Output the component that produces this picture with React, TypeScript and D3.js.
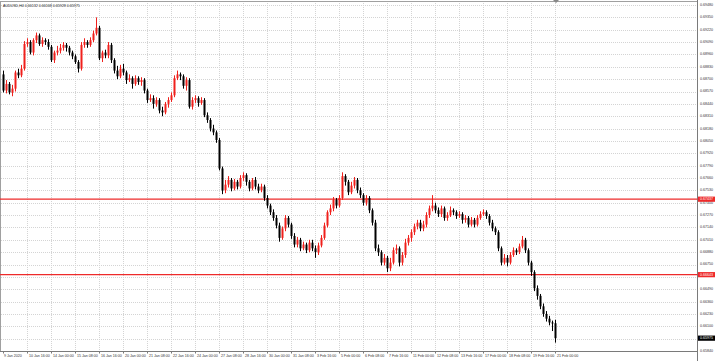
import React from "react";
import * as d3 from "d3";

const symbolTitle = "AUDUSD,H4  0.66132 0.66168 0.65928 0.65975";

const priceTicks = [
  0.6948, 0.6935, 0.6922, 0.6909, 0.6896, 0.6883, 0.687, 0.6857, 0.6844, 0.6831,
  0.6818, 0.6805, 0.6792, 0.6779, 0.6766, 0.6753, 0.674, 0.6727, 0.6714, 0.6701,
  0.6688, 0.6675, 0.6662, 0.6649, 0.6636, 0.6623, 0.661, 0.6597, 0.6584,
];

const timeLabels = [
  "9 Jan 2020", "10 Jan 16:00", "14 Jan 00:00", "15 Jan 08:00", "16 Jan 16:00", "20 Jan 00:00",
  "21 Jan 08:00", "22 Jan 16:00", "24 Jan 00:00", "27 Jan 08:00", "28 Jan 16:00", "30 Jan 00:00",
  "31 Jan 08:00", "3 Feb 16:00", "5 Feb 00:00", "6 Feb 08:00", "7 Feb 16:00", "11 Feb 00:00",
  "12 Feb 08:00", "13 Feb 16:00", "17 Feb 00:00", "18 Feb 08:00", "19 Feb 16:00", "21 Feb 00:00",
];
const timeLabelBars = [
  0, 8, 16, 24, 32, 40, 48, 56, 64, 72, 80, 88, 96, 104, 112, 120, 128, 136, 144, 152, 160, 168, 176, 184,
];

const opens = [
  0.6875, 0.6858, 0.6865, 0.6856, 0.686, 0.6877, 0.6874, 0.6881, 0.6907, 0.6909,
  0.6898, 0.6911, 0.6916, 0.6907, 0.6911, 0.6909, 0.6904, 0.689, 0.6898, 0.69,
  0.6903, 0.6906, 0.6903, 0.6898, 0.6894, 0.6888, 0.6881, 0.6906, 0.6909, 0.6906,
  0.6911, 0.6918, 0.6924, 0.6892, 0.6898, 0.6895, 0.6906, 0.689, 0.6879, 0.6873,
  0.6881, 0.6877, 0.6869, 0.6871, 0.6865, 0.6871, 0.6867, 0.6869, 0.6858, 0.6848,
  0.685, 0.6844, 0.6848, 0.6837, 0.6835, 0.6844, 0.6848, 0.6853, 0.6871, 0.6875,
  0.6873, 0.6863, 0.6869, 0.6841, 0.6848, 0.685, 0.6845, 0.6848, 0.6832, 0.6827,
  0.6818, 0.6814, 0.6806, 0.6776, 0.6753, 0.6759, 0.6764, 0.6755, 0.6762, 0.6757,
  0.6766, 0.6769, 0.6762, 0.6755, 0.6764, 0.6757, 0.6753, 0.6757, 0.6745, 0.6737,
  0.673, 0.6724, 0.6716, 0.6703, 0.6713, 0.6724, 0.6717, 0.6705, 0.6696, 0.6701,
  0.6692, 0.6696, 0.669, 0.6698, 0.6692, 0.6688, 0.6695, 0.6703, 0.6716, 0.673,
  0.6734, 0.6743, 0.6737, 0.6745, 0.6768, 0.6762, 0.6751, 0.6758, 0.6764, 0.6753,
  0.6748, 0.674, 0.6745, 0.6732, 0.6719, 0.6692, 0.6688, 0.6677, 0.6682, 0.6671,
  0.6677, 0.669, 0.6692, 0.6677, 0.6685, 0.6698, 0.6703, 0.6709, 0.6715, 0.6719,
  0.6713, 0.6717, 0.6727, 0.6734, 0.6737, 0.6732, 0.6728, 0.6734, 0.6724, 0.6727,
  0.6732, 0.673, 0.6726, 0.6728, 0.6722, 0.6724, 0.6717, 0.6722, 0.6717, 0.6724,
  0.6728, 0.673, 0.6726, 0.6719, 0.6713, 0.6709, 0.6692, 0.6677, 0.6682, 0.6677,
  0.6685, 0.669, 0.6688, 0.6694, 0.6701, 0.669, 0.6677, 0.6667, 0.665, 0.6642,
  0.6631, 0.6623, 0.6618, 0.6614, 0.66132,
];

const highs = [
  0.6879, 0.6869, 0.6867, 0.6864, 0.6879, 0.6881, 0.6885, 0.691, 0.6913, 0.6911,
  0.6913, 0.6919, 0.6918, 0.6914, 0.6913, 0.6912, 0.6906, 0.69, 0.6905, 0.6907,
  0.6909, 0.6908, 0.6905, 0.69, 0.6896, 0.689, 0.6909, 0.6913, 0.6911, 0.6914,
  0.6921, 0.6935, 0.6926, 0.69, 0.6901, 0.6909, 0.6908, 0.6892, 0.6884, 0.6885,
  0.6886, 0.6879, 0.6875, 0.6873, 0.6874, 0.6873, 0.6872, 0.6871, 0.686, 0.6854,
  0.6853, 0.6851, 0.685, 0.6841, 0.6846, 0.6851, 0.6856, 0.6874, 0.6879, 0.6877,
  0.6875, 0.6872, 0.6871, 0.6851, 0.6853, 0.6852, 0.6851, 0.685, 0.6835, 0.6829,
  0.6822, 0.6816, 0.6808, 0.6778, 0.6764, 0.6768, 0.6766, 0.6765, 0.6764, 0.6769,
  0.6772, 0.6771, 0.6764, 0.6766, 0.6767, 0.676, 0.676, 0.6759, 0.6748, 0.6739,
  0.6733, 0.6727, 0.6719, 0.6715, 0.6727, 0.6726, 0.6719, 0.6708, 0.6704, 0.6703,
  0.6699, 0.6698, 0.6701, 0.6701, 0.6695, 0.6698, 0.6706, 0.6719, 0.6732, 0.6738,
  0.6746, 0.6745, 0.6748, 0.6772, 0.677, 0.6764, 0.6762, 0.6767, 0.6766, 0.6756,
  0.675, 0.6748, 0.6747, 0.6734, 0.6722, 0.6696, 0.669, 0.6686, 0.6684, 0.6682,
  0.6693, 0.6696, 0.6694, 0.6688, 0.6702, 0.6706, 0.6712, 0.6718, 0.6722, 0.6722,
  0.6721, 0.673, 0.6737, 0.6748, 0.674, 0.6735, 0.6737, 0.6736, 0.673, 0.6736,
  0.6734, 0.6732, 0.6731, 0.673, 0.6727, 0.6726, 0.6725, 0.6724, 0.6727, 0.6731,
  0.6733, 0.6732, 0.6728, 0.6722, 0.6715, 0.6711, 0.6694, 0.6686, 0.6685, 0.6688,
  0.6693, 0.6692, 0.6697, 0.6705, 0.6703, 0.6692, 0.6679, 0.6669, 0.6653, 0.6644,
  0.6634, 0.6626, 0.6621, 0.6616, 0.66168,
];

const lows = [
  0.6856, 0.6855, 0.6854, 0.6852, 0.6857, 0.6871, 0.6872, 0.6879, 0.6904, 0.6896,
  0.6895, 0.6908, 0.6905, 0.6904, 0.6906, 0.6901, 0.6888, 0.6887, 0.6895, 0.6897,
  0.69, 0.6899, 0.6895, 0.6891, 0.6886, 0.6877, 0.6879, 0.6903, 0.6903, 0.6904,
  0.6909, 0.6916, 0.689, 0.6888, 0.6892, 0.6892, 0.6887, 0.6876, 0.687, 0.6871,
  0.6874, 0.6865, 0.6867, 0.686, 0.6863, 0.6864, 0.6863, 0.6855, 0.6845, 0.6846,
  0.6839, 0.6841, 0.6834, 0.6831, 0.6833, 0.684, 0.6846, 0.6851, 0.6869, 0.6869,
  0.686, 0.6858, 0.6839, 0.6838, 0.6845, 0.6841, 0.6843, 0.683, 0.6824, 0.6815,
  0.6811, 0.6803, 0.6774, 0.6749, 0.675, 0.6756, 0.6752, 0.6753, 0.6754, 0.6755,
  0.6763, 0.6758, 0.6752, 0.6753, 0.6754, 0.675, 0.6751, 0.6742, 0.6734, 0.6727,
  0.6721, 0.6713, 0.6699, 0.6701, 0.671, 0.6714, 0.6702, 0.6693, 0.6693, 0.6689,
  0.669, 0.6687, 0.6688, 0.6689, 0.6682, 0.6685, 0.6693, 0.6701, 0.6714, 0.6727,
  0.6731, 0.6734, 0.6735, 0.6743, 0.6758, 0.6748, 0.6749, 0.6755, 0.675, 0.6745,
  0.6737, 0.6737, 0.6729, 0.6716, 0.6689, 0.6684, 0.6674, 0.6674, 0.6667, 0.6668,
  0.6675, 0.6686, 0.6673, 0.6674, 0.6682, 0.6695, 0.6699, 0.6706, 0.6712, 0.671,
  0.671, 0.6714, 0.6724, 0.6731, 0.6729, 0.6725, 0.6725, 0.6721, 0.6721, 0.6725,
  0.6727, 0.6723, 0.6724, 0.6718, 0.6719, 0.6714, 0.6715, 0.6714, 0.6715, 0.6722,
  0.6726, 0.6723, 0.6716, 0.671, 0.6706, 0.6689, 0.6674, 0.6675, 0.6673, 0.6675,
  0.6683, 0.6685, 0.6686, 0.6692, 0.6687, 0.6674, 0.6663, 0.6647, 0.6638, 0.6628,
  0.662, 0.6615, 0.6611, 0.6605, 0.65928,
];

const closes = [
  0.6858, 0.6865, 0.6856, 0.686, 0.6877, 0.6874, 0.6881, 0.6907, 0.6909, 0.6898,
  0.6911, 0.6916, 0.6907, 0.6911, 0.6909, 0.6904, 0.689, 0.6898, 0.69, 0.6903,
  0.6906, 0.6903, 0.6898, 0.6894, 0.6888, 0.6881, 0.6906, 0.6909, 0.6906, 0.6911,
  0.6918, 0.6924, 0.6892, 0.6898, 0.6895, 0.6906, 0.689, 0.6879, 0.6873, 0.6881,
  0.6877, 0.6869, 0.6871, 0.6865, 0.6871, 0.6867, 0.6869, 0.6858, 0.6848, 0.685,
  0.6844, 0.6848, 0.6837, 0.6835, 0.6844, 0.6848, 0.6853, 0.6871, 0.6875, 0.6873,
  0.6863, 0.6869, 0.6841, 0.6848, 0.685, 0.6845, 0.6848, 0.6832, 0.6827, 0.6818,
  0.6814, 0.6806, 0.6776, 0.6753, 0.6759, 0.6764, 0.6755, 0.6762, 0.6757, 0.6766,
  0.6769, 0.6762, 0.6755, 0.6764, 0.6757, 0.6753, 0.6757, 0.6745, 0.6737, 0.673,
  0.6724, 0.6716, 0.6703, 0.6713, 0.6724, 0.6717, 0.6705, 0.6696, 0.6701, 0.6692,
  0.6696, 0.669, 0.6698, 0.6692, 0.6688, 0.6695, 0.6703, 0.6716, 0.673, 0.6734,
  0.6743, 0.6737, 0.6745, 0.6768, 0.6762, 0.6751, 0.6758, 0.6764, 0.6753, 0.6748,
  0.674, 0.6745, 0.6732, 0.6719, 0.6692, 0.6688, 0.6677, 0.6682, 0.6671, 0.6677,
  0.669, 0.6692, 0.6677, 0.6685, 0.6698, 0.6703, 0.6709, 0.6715, 0.6719, 0.6713,
  0.6717, 0.6727, 0.6734, 0.6737, 0.6732, 0.6728, 0.6734, 0.6724, 0.6727, 0.6732,
  0.673, 0.6726, 0.6728, 0.6722, 0.6724, 0.6717, 0.6722, 0.6717, 0.6724, 0.6728,
  0.673, 0.6726, 0.6719, 0.6713, 0.6709, 0.6692, 0.6677, 0.6682, 0.6677, 0.6685,
  0.669, 0.6688, 0.6694, 0.6701, 0.669, 0.6677, 0.6667, 0.665, 0.6642, 0.6631,
  0.6623, 0.6618, 0.6614, 0.66132, 0.65975,
];

const levelLines = [0.67437, 0.66643];
const currentPrice = 0.65975;

const FONT = "'Liberation Sans', Arial, sans-serif";
const BULL = "#f0201c";
const BEAR = "#000000";
const FS = 3.6;

export default function App() {
  const W = 716;
  const H = 361;
  const plotR = 697.5;
  const plotB = 351.5;

  const y = d3.scaleLinear().domain([0.6584, 0.6948]).range([351, 5]);
  const x = d3.scaleLinear().domain([0, 184]).range([3, 555]);

  const candles = closes.map((c, i) => ({ i, o: opens[i], h: highs[i], l: lows[i], c }));
  const fmt = d3.format(".5f");

  const boxes = [...levelLines, currentPrice].map((p) => y(p));
  const hiddenTick = (t: number) => boxes.some((b) => Math.abs(y(t) - b) < 3);

  return (
    <div style={{ position: "fixed", left: 0, top: 0 }}>
      <svg width={W} height={H} style={{ display: "block", background: "#fff" }} fontFamily={FONT}>
        <rect x={0} y={0} width={W} height={H} fill="#fff" />
        <g stroke="#d4d4d4" strokeWidth={1} strokeDasharray="1 1">
          {priceTicks.map((t, k) => (
            <line key={"h" + k} x1={1} x2={plotR} y1={Math.round(y(t)) + 0.5} y2={Math.round(y(t)) + 0.5} />
          ))}
          {timeLabelBars.slice(1).map((b, k) => (
            <line key={"v" + k} x1={Math.round(x(b)) + 0.5} x2={Math.round(x(b)) + 0.5} y1={1} y2={plotB} />
          ))}
        </g>
        <rect x={0.5} y={1.5} width={plotR - 0.5} height={plotB - 1.5} fill="none" stroke="#a0a0a0" strokeWidth={1} />
        <line x1={plotR} x2={plotR} y1={0} y2={H} stroke="#7a7a7a" />
        <line x1={0} x2={plotR} y1={plotB} y2={plotB} stroke="#7a7a7a" />

        {levelLines.map((p, k) => (
          <line key={"lvl" + k} x1={0} x2={plotR} y1={y(p)} y2={y(p)} stroke="#ee2a2a" strokeWidth={1.2} />
        ))}

        {candles.map((d) => {
          const cx = Math.round(x(d.i));
          const col = d.c > d.o ? BULL : BEAR;
          const top = y(Math.max(d.o, d.c));
          const bot = y(Math.min(d.o, d.c));
          return (
            <g key={"c" + d.i}>
              <line x1={cx + 0.5} x2={cx + 0.5} y1={y(d.h)} y2={y(d.l)} stroke={col} strokeWidth={1} />
              <rect x={cx - 0.5} y={top} width={2} height={Math.max(1, bot - top)} fill={col} />
            </g>
          );
        })}

        <text x={3} y={7} fontSize={FS} fill="#222">{symbolTitle}</text>
        <path d="M553,0 L559,0 L556,3 Z" fill="#888" />

        <g fontSize={FS} fill="#333">
          {priceTicks.filter((t) => !hiddenTick(t)).map((t, k) => (
            <text key={"pt" + k} x={700} y={y(t)} dominantBaseline="middle">{fmt(t)}</text>
          ))}
        </g>
        {levelLines.map((p, k) => (
          <g key={"lb" + k}>
            <rect x={698} y={y(p) - 2.6} width={17} height={5.2} fill="#ee2a2a" />
            <text x={700} y={y(p)} dominantBaseline="middle" fontSize={FS} fill="#fff">{fmt(p)}</text>
          </g>
        ))}
        <rect x={698} y={y(currentPrice) - 2.6} width={17} height={5.2} fill="#000" />
        <text x={700} y={y(currentPrice)} dominantBaseline="middle" fontSize={FS} fill="#fff">{fmt(currentPrice)}</text>

        <g fontSize={FS} fill="#333">
          {timeLabels.map((s, k) => {
            const tx = Math.round(x(timeLabelBars[k]));
            return (
              <g key={"tl" + k}>
                <line x1={tx + 0.5} x2={tx + 0.5} y1={plotB} y2={plotB + 2} stroke="#7a7a7a" />
                <text x={k === 0 ? 4 : tx + 2} y={356.5}>{s}</text>
              </g>
            );
          })}
        </g>
      </svg>
    </div>
  );
}
